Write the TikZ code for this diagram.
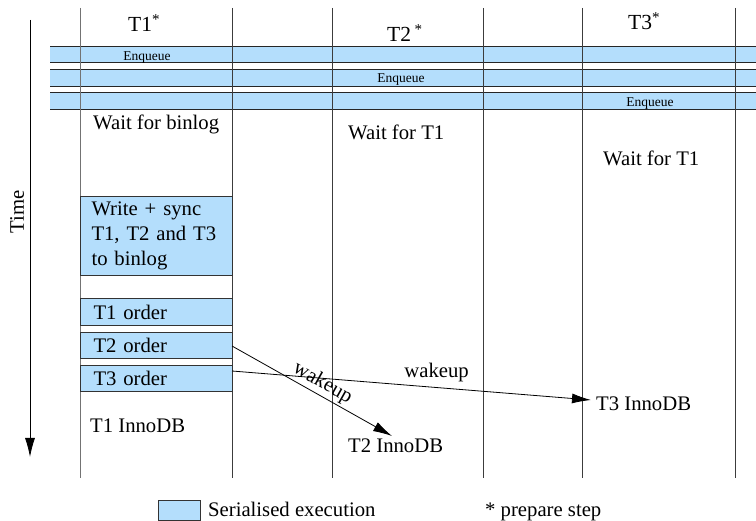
\documentclass[tikz,border=0pt]{standalone}
\usepackage{fontspec}
\setmainfont{Liberation Serif}
\usetikzlibrary{arrows.meta}
\definecolor{serblue}{RGB}{180,222,252}
\definecolor{lanegray}{RGB}{60,60,60}
\tikzset{
  lane/.style={line width=1pt, draw=lanegray},
  band/.style={fill=serblue, draw=none},
  bandedge/.style={line width=1pt, draw=black!85},
  serbox/.style={fill=serblue, draw=black!80, line width=1pt, anchor=north west, inner ysep=0pt, align=left, font=\mainfnt},
  txt/.style={anchor=base west, inner sep=0pt, font=\mainfnt},
  hdr/.style={anchor=base west, inner sep=0pt, font=\hdrfnt},
  enq/.style={anchor=base, inner sep=0pt, font=\enqfnt},
  tip/.style={-{Latex[length=19pt,width=10pt]}, line width=0.8pt},
}
\newcommand{\mainfnt}{\fontsize{20.7}{25}\selectfont}
\newcommand{\hdrfnt}{\fontsize{21.5}{25}\selectfont}
\newcommand{\enqfnt}{\fontsize{13.5}{14}\selectfont}
\begin{document}
\begin{tikzpicture}[x=1pt,y=-1pt]
\useasboundingbox (0,0) rectangle (756,521);
% bands
\foreach \t/\b in {47/63,70/87,93/110}{
  \fill[band] (50,\t) rectangle (756,\b);
  \draw[bandedge] (50,\t) -- (756,\t);
  \draw[bandedge] (50,\b) -- (756,\b);
}
\node[enq] (e1) at (147,61) {Enqueue};
\node[enq] (e2) at (401,83) {Enqueue};
\node[enq] (e3) at (650,107) {Enqueue};
% lanes
\draw[lane, draw=black!55] (80,8) -- (80,478);
\foreach \x in {232,332,483,582,735}{
  \draw[lane] (\x,8) -- (\x,478);
}
% headers
\node[hdr] (h1) at (128,32) {T1\textsuperscript{*}};
\node[hdr] (h2) at (387,42) {T2\,\textsuperscript{*}};
\node[hdr] (h3) at (628,30) {T3\textsuperscript{*}};
% time axis
\coordinate (tstart) at (30,20);
\coordinate (tend) at (30,457);
\draw[tip] (tstart) -- (tend);
\node[font=\mainfnt, rotate=90, inner sep=0pt] (time) at (17,212) {Time};
% waits
\node[txt] (w1) at (93,130) {Wait for binlog};
\node[txt] (w2) at (348,140) {Wait for T1};
\node[txt] (w3) at (603,166) {Wait for T1};
% serialised boxes
\node[serbox, inner xsep=11pt, text width=130pt, minimum height=79pt] (wbox) at (80,196) {Write + sync\\T1, T2 and T3\\to binlog};
\node[serbox, inner xsep=13pt, text width=126pt, minimum height=27pt] (o1) at (80,298) {T1 order};
\node[serbox, inner xsep=13pt, text width=126pt, minimum height=26pt] (o2) at (80,332) {T2 order};
\node[serbox, inner xsep=13pt, text width=126pt, minimum height=26pt] (o3) at (80,365) {T3 order};
% innodb
\node[txt] (i1) at (90,433) {T1 InnoDB};
\node[txt] (i2) at (348,453) {T2 InnoDB};
\node[txt] (i3) at (596,411) {T3 InnoDB};
\coordinate (o2out) at (232,346);
\coordinate (o3out) at (232,371);
\coordinate (i2in) at (392,436);
\coordinate (i3in) at (591,400);
\draw[tip] (o2out) -- node[pos=0.53, sloped, above, font=\mainfnt, inner sep=2pt] (wk1) {wakeup} (i2in);
\draw[tip] (o3out) -- node[pos=0.57, above, font=\mainfnt, inner sep=5pt] (wk2) {wakeup} (i3in);
% legend
\node[fill=serblue, draw=black!80, line width=1pt, minimum width=42pt, minimum height=20pt, inner sep=0pt, anchor=north west] (leg) at (158,500) {};
\node[txt] (legt) at (208,517) {Serialised execution};
\node[txt] (prep) at (485,517) {* prepare step};
\end{tikzpicture}
\end{document}
